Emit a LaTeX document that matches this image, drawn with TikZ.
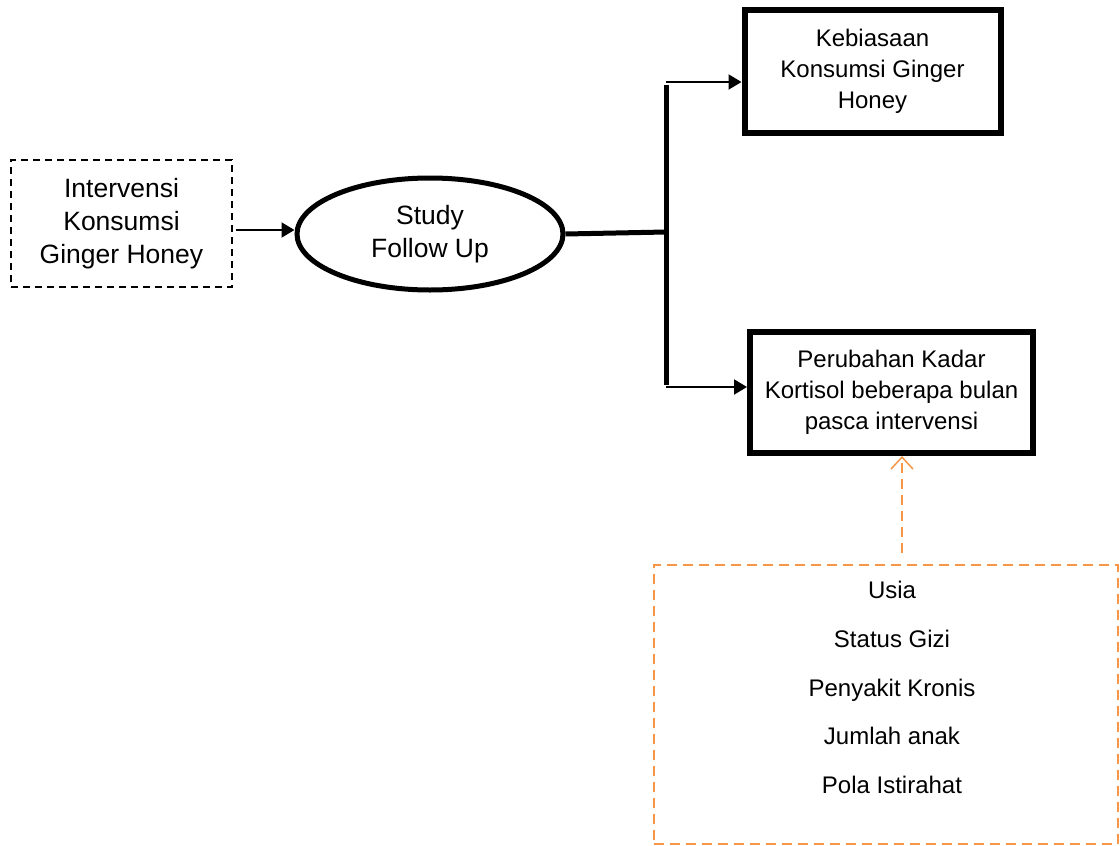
\documentclass[tikz,border=0pt]{standalone}
\usepackage{fontspec}
\setmainfont{Liberation Sans}
\usetikzlibrary{arrows.meta,shapes.geometric}
\definecolor{conforange}{RGB}{247,150,70}
\begin{document}
\begin{tikzpicture}[x=1pt,y=-1pt,
  txt/.style={font=\fontsize{24}{31}\selectfont,align=center},
  bigtxt/.style={font=\fontsize{26.5}{33}\selectfont,align=center},
  thickbox/.style={draw,line width=6pt,rectangle,txt,inner sep=0pt},
  dashbox/.style={draw,line width=1.5pt,dash pattern=on 7pt off 5pt,rectangle,bigtxt,inner sep=0pt},
  thinarrow/.style={line width=2pt,-{Triangle[length=13pt,width=15pt]}},
  heavy/.style={line width=5pt},
  orangearrow/.style={draw=conforange,line width=2pt,dash pattern=on 10pt off 6pt,-{Straight Barb[length=12pt,width=22pt,line width=1.5pt]}}
]
\useasboundingbox (0,0) rectangle (1120,846);
\node[dashbox,minimum width=221pt,minimum height=127pt] (interv) at (121.5,223.5) {Intervensi\\Konsumsi\\Ginger Honey};
\node[draw,ellipse,line width=5pt,minimum width=266pt,minimum height=112pt,bigtxt,inner sep=0pt] (study) at (430,234) {Study\\Follow Up};
\node[thickbox,minimum width=256pt,minimum height=123pt] (kebiasaan) at (872.5,71.5) {Kebiasaan\\Konsumsi Ginger\\Honey};
\node[thickbox,minimum width=283pt,minimum height=121pt] (kortisol) at (891.5,392.5) {Perubahan Kadar\\Kortisol beberapa bulan\\pasca intervensi};
\node[draw=conforange,line width=2pt,dash pattern=on 10pt off 6pt,rectangle,minimum width=464pt,minimum height=279pt,inner sep=0pt] (conf) at (886,704.5) {};
\node[txt,font=\fontsize{24}{48.75}\selectfont] (conflist) at (892,687.5) {Usia\\Status Gizi\\Penyakit Kronis\\Jumlah anak\\Pola Istirahat};
\coordinate (junc) at (666,232);
\coordinate (jtop) at (666,82);
\coordinate (jbot) at (666,387);
\coordinate (astart) at (236,230);
\coordinate (ostart) at (902,553);
\draw[thinarrow] (astart) -- (astart -| study.west);
\draw[heavy] (study.east) -- (junc);
\draw[heavy] ([yshift=-2.5pt]jtop) -- ([yshift=2.5pt]jbot);
\draw[thinarrow] (jtop) -- (jtop -| kebiasaan.west);
\draw[thinarrow] (jbot) -- (jbot -| kortisol.west);
\draw[orangearrow] (ostart) -- (ostart |- kortisol.south);
\end{tikzpicture}
\end{document}
